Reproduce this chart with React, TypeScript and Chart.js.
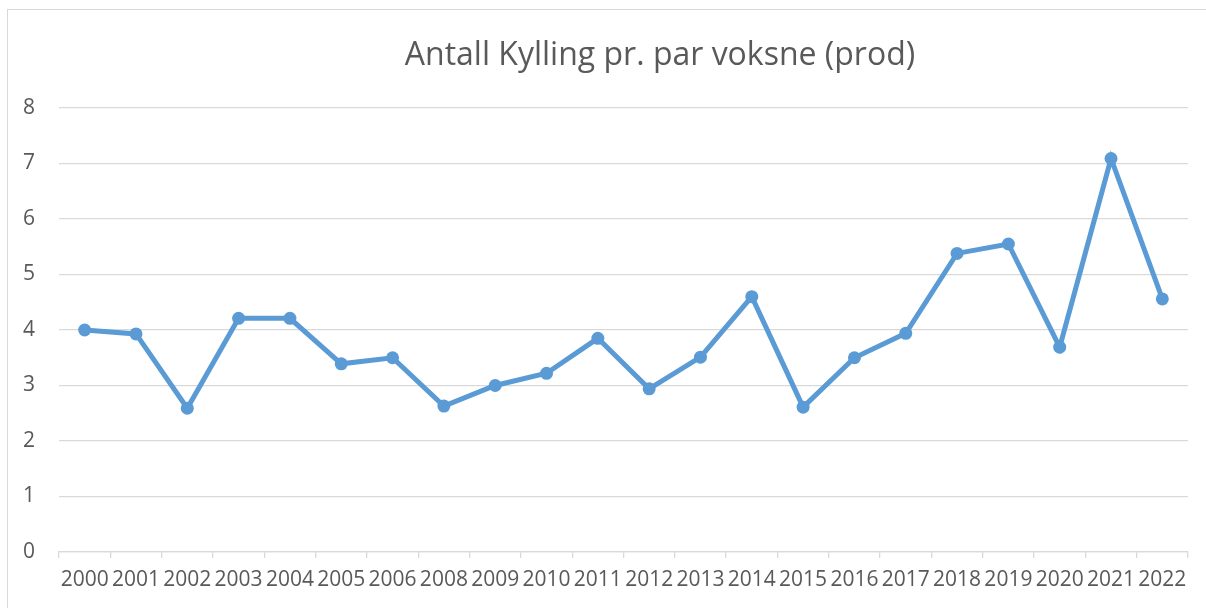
import React, { useEffect, useRef } from "react";
import { Chart, registerables } from "chart.js";

Chart.register(...registerables);

const TITLE = "Antall Kylling pr. par voksne (prod)";
const years = ["2000","2001","2002","2003","2004","2005","2006","2008","2009","2010","2011","2012","2013","2014","2015","2016","2017","2018","2019","2020","2021","2022"];
const values = [4.0, 3.93, 2.59, 4.21, 4.21, 3.39, 3.5, 2.63, 3.0, 3.22, 3.85, 2.94, 3.51, 4.6, 2.61, 3.5, 3.94, 5.38, 5.55, 3.69, 7.09, 4.56];
const yTicks = [0, 1, 2, 3, 4, 5, 6, 7, 8];

const FONT = "'Open Sans', sans-serif";
const TEXT = "#595959";
const GRID = "#d9d9d9";
const LINE = "#5b9bd5";

const framePlugin = {
  id: "frameAndTitle",
  afterDraw(chart: any) {
    const ctx = chart.ctx;
    ctx.save();
    ctx.strokeStyle = GRID;
    ctx.lineWidth = 1;
    ctx.strokeRect(7.5, 9.5, 1300, 700);
    ctx.fillStyle = TEXT;
    ctx.font = `32px ${FONT}`;
    ctx.textAlign = "center";
    ctx.textBaseline = "middle";
    ctx.fillText(TITLE, 660, 56);
    ctx.restore();
  },
};

export default function App() {
  const ref = useRef<HTMLCanvasElement>(null);
  useEffect(() => {
    if (!ref.current) return;
    const chart = new Chart(ref.current, {
      type: "line",
      data: {
        labels: years,
        datasets: [
          {
            data: values,
            borderColor: LINE,
            backgroundColor: LINE,
            borderWidth: 5,
            pointRadius: 6.5,
            pointBorderWidth: 0,
            pointBackgroundColor: LINE,
            tension: 0,
          },
        ],
      },
      options: {
        responsive: false,
        animation: false,
        layout: { padding: { top: 108, left: 7, right: 18, bottom: 0 } },
        plugins: { legend: { display: false }, tooltip: { enabled: false }, title: { display: false } },
        scales: {
          x: {
            offset: true,
            grid: { offset: true, drawOnChartArea: false, drawTicks: true, tickLength: 6, color: GRID, lineWidth: 1.3 },
            border: { display: true, color: GRID, width: 1.3 },
            ticks: { color: TEXT, font: { family: FONT, size: 21 }, padding: 9, maxRotation: 0, autoSkip: false },
            afterFit: (s: any) => { s.height = 56; },
          },
          y: {
            min: 0,
            max: 8,
            afterBuildTicks: (s: any) => { s.ticks = yTicks.map((v) => ({ value: v })); },
            grid: { color: GRID, drawTicks: false, lineWidth: 1.3 },
            border: { display: false },
            ticks: { color: TEXT, font: { family: FONT, size: 21 }, padding: 24 },
            afterFit: (s: any) => { s.width = 52; },
          },
        },
      },
      plugins: [framePlugin],
    });
    return () => chart.destroy();
  }, []);
  return (
    <div style={{ position: "fixed", left: 0, top: 0, width: 1206, height: 608, background: "#fff" }}>
      <canvas ref={ref} width={1206} height={608} />
    </div>
  );
}
